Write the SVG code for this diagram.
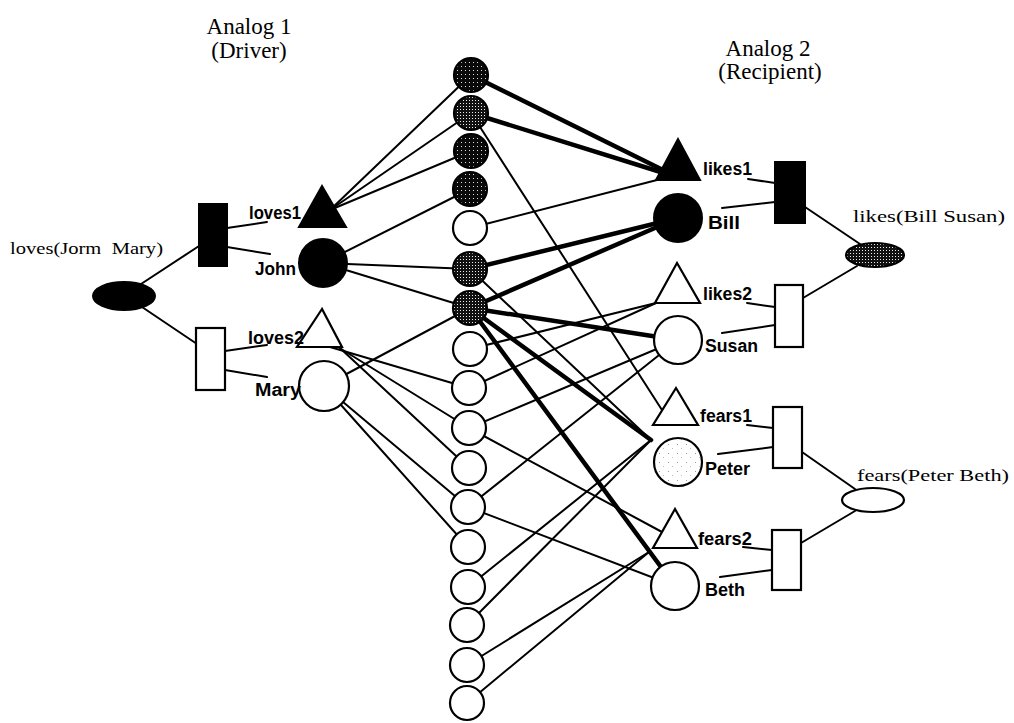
<svg xmlns="http://www.w3.org/2000/svg" width="1014" height="723" viewBox="0 0 1014 723">
<defs>
<pattern id="dk" width="4" height="4" patternUnits="userSpaceOnUse"><rect width="4" height="4" fill="#0a0a0a"/><rect x="1" y="2" width="1" height="1" fill="#ddd"/></pattern>
<pattern id="sp" width="3" height="3" patternUnits="userSpaceOnUse"><rect width="3" height="3" fill="#111"/><rect x="1" y="1" width="1" height="1" fill="#eee"/></pattern>
<pattern id="lt" width="9" height="9" patternUnits="userSpaceOnUse"><rect width="9" height="9" fill="#fff"/><rect x="2" y="3" width="1" height="1" fill="#999"/><rect x="6" y="7" width="1" height="1" fill="#bbb"/></pattern>
<style>
.ln{stroke:#000;stroke-width:2;fill:none;stroke-linecap:round}
.tk{stroke:#000;stroke-width:4.5;fill:none;stroke-linecap:round}
.w{fill:#fff;stroke:#000;stroke-width:2.2}
.b{fill:#000;stroke:#000;stroke-width:2}
.d{fill:url(#dk);stroke:#000;stroke-width:2.2}
.s{fill:url(#sp);stroke:#000;stroke-width:2.2}
.lab{font-family:"Liberation Sans",Arial,sans-serif;font-weight:bold;font-size:18px;fill:#000}
.ser{font-family:"Liberation Serif","Times New Roman",serif;font-size:17px;fill:#000}
.ttl{font-family:"Liberation Serif","Times New Roman",serif;font-size:23px;fill:#000;text-anchor:middle}
</style>
</defs>
<rect width="1014" height="723" fill="#fff"/>

<g id="titles">
<text class="ttl" x="249" y="34">Analog 1</text>
<text class="ttl" x="249" y="58">(Driver)</text>
<text class="ttl" x="768" y="56">Analog 2</text>
<text class="ttl" x="770" y="79">(Recipient)</text>
</g>

<g id="connectors">
<!-- left proposition trees -->
<line class="ln" x1="138" y1="286" x2="199" y2="246"/>
<line class="ln" x1="142" y1="307" x2="197" y2="344"/>
<line class="ln" x1="227" y1="228" x2="267" y2="222"/>
<line class="ln" x1="227" y1="247" x2="270" y2="254"/>
<line class="ln" x1="225" y1="351" x2="267" y2="345"/>
<line class="ln" x1="225" y1="370" x2="267" y2="377"/>
<!-- right proposition trees -->
<line class="ln" x1="748" y1="179" x2="775" y2="183"/>
<line class="ln" x1="722" y1="208" x2="775" y2="202"/>
<line class="ln" x1="747" y1="303" x2="775" y2="307"/>
<line class="ln" x1="722" y1="333" x2="775" y2="325"/>
<line class="ln" x1="747" y1="425" x2="773" y2="428"/>
<line class="ln" x1="718" y1="454" x2="773" y2="447"/>
<line class="ln" x1="743" y1="547" x2="772" y2="550"/>
<line class="ln" x1="720" y1="577" x2="772" y2="570"/>
<line class="ln" x1="805" y1="207" x2="860" y2="244"/>
<line class="ln" x1="803" y1="298" x2="857" y2="266"/>
<line class="ln" x1="802" y1="452" x2="855" y2="489"/>
<line class="ln" x1="801" y1="543" x2="855" y2="511"/>
<!-- driver to semantics -->
<line class="ln" x1="330" y1="210" x2="471" y2="75"/>
<line class="ln" x1="330" y1="210" x2="471" y2="113"/>
<line class="ln" x1="330" y1="210" x2="471" y2="151"/>
<line class="ln" x1="323" y1="263" x2="470" y2="189"/>
<line class="ln" x1="323" y1="263" x2="470" y2="269"/>
<line class="ln" x1="323" y1="263" x2="470" y2="308"/>
<line class="ln" x1="330" y1="347" x2="469" y2="388"/>
<line class="ln" x1="338" y1="347" x2="469" y2="428"/>
<line class="ln" x1="341" y1="349" x2="469" y2="468"/>
<line class="ln" x1="324" y1="386" x2="470" y2="308"/>
<line class="ln" x1="324" y1="386" x2="468" y2="507"/>
<line class="ln" x1="324" y1="386" x2="468" y2="547"/>
<!-- semantics to recipient -->
<line class="tk" x1="471" y1="75" x2="667" y2="172"/>
<line class="tk" x1="471" y1="113" x2="667" y2="174"/>
<line class="ln" x1="470" y1="228" x2="657" y2="180"/>
<line class="tk" x1="470" y1="269" x2="678" y2="218"/>
<line class="tk" x1="470" y1="308" x2="678" y2="218"/>
<line class="ln" x1="470" y1="349" x2="656" y2="303"/>
<line class="ln" x1="469" y1="388" x2="656" y2="303"/>
<line class="tk" x1="470" y1="308" x2="678" y2="340"/>
<line class="ln" x1="469" y1="428" x2="678" y2="340"/>
<line class="ln" x1="468" y1="507" x2="678" y2="340"/>
<line class="ln" x1="471" y1="113" x2="662" y2="410"/>
<line class="ln" x1="470" y1="269" x2="651" y2="440"/>
<line class="tk" x1="470" y1="308" x2="651" y2="440"/>
<line class="ln" x1="468" y1="587" x2="651" y2="440"/>
<line class="ln" x1="467" y1="625" x2="651" y2="440"/>
<line class="tk" x1="470" y1="308" x2="675" y2="586"/>
<line class="ln" x1="469" y1="428" x2="662" y2="532"/>
<line class="ln" x1="468" y1="507" x2="675" y2="586"/>
<line class="ln" x1="467" y1="665" x2="649" y2="552"/>
<line class="ln" x1="467" y1="703" x2="649" y2="552"/>
</g>

<g id="semantics">
<circle class="d" cx="471" cy="75" r="17"/>
<circle class="s" cx="471" cy="113" r="17"/>
<circle class="d" cx="471" cy="151" r="17"/>
<circle class="d" cx="470" cy="189" r="17"/>
<circle class="w" cx="470" cy="228" r="17"/>
<circle class="s" cx="470" cy="269" r="17"/>
<circle class="s" cx="470" cy="308" r="17"/>
<circle class="w" cx="470" cy="349" r="17"/>
<circle class="w" cx="469" cy="388" r="17"/>
<circle class="w" cx="469" cy="428" r="17"/>
<circle class="w" cx="469" cy="468" r="17"/>
<circle class="w" cx="468" cy="507" r="17"/>
<circle class="w" cx="468" cy="547" r="17"/>
<circle class="w" cx="468" cy="587" r="17"/>
<circle class="w" cx="467" cy="625" r="17"/>
<circle class="w" cx="467" cy="665" r="17"/>
<circle class="w" cx="467" cy="703" r="17"/>
</g>

<g id="loves-prop"><ellipse class="b" cx="124" cy="296" rx="31" ry="14"/><text class="ser" x="10" y="254" textLength="153" lengthAdjust="spacingAndGlyphs">loves(Jorm&#160; Mary)</text></g>
<g id="loves-sp1"><rect class="b" x="199" y="204" width="28" height="62"/></g>
<g id="loves-sp2"><rect class="w" x="196" y="328" width="29" height="62"/></g>
<g id="loves1"><polygon class="b" points="322,186 299,227 346,227"/><text class="lab" x="249" y="219" textLength="52" lengthAdjust="spacingAndGlyphs">loves1</text></g>
<g id="John"><circle class="b" cx="323" cy="263" r="24"/><text class="lab" x="255" y="275" textLength="41" lengthAdjust="spacingAndGlyphs">John</text></g>
<g id="loves2"><polygon class="w" points="322,309 297,347 342,347"/><text class="lab" x="248" y="344" textLength="56" lengthAdjust="spacingAndGlyphs">loves2</text></g>
<g id="Mary"><circle class="w" cx="324" cy="386" r="25"/><text class="lab" x="255" y="396" textLength="46" lengthAdjust="spacingAndGlyphs">Mary</text></g>

<g id="likes1"><polygon class="b" points="678,139 656,180 700,180"/><text class="lab" x="703" y="175" textLength="49" lengthAdjust="spacingAndGlyphs">likes1</text></g>
<g id="Bill"><circle class="b" cx="678" cy="218" r="24"/><text class="lab" x="708" y="229" textLength="32" lengthAdjust="spacingAndGlyphs">Bill</text></g>
<g id="likes2"><polygon class="w" points="677,263 655,303 700,303"/><text class="lab" x="703" y="300" textLength="49" lengthAdjust="spacingAndGlyphs">likes2</text></g>
<g id="Susan"><circle class="w" cx="678" cy="340" r="24"/><text class="lab" x="705" y="352" textLength="53" lengthAdjust="spacingAndGlyphs">Susan</text></g>
<g id="fears1"><polygon class="w" points="676,388 653,425 698,425"/><text class="lab" x="700" y="422" textLength="52" lengthAdjust="spacingAndGlyphs">fears1</text></g>
<g id="Peter"><circle fill="url(#lt)" stroke="#000" stroke-width="2.2" cx="678" cy="462" r="24"/><text class="lab" x="705" y="475" textLength="45" lengthAdjust="spacingAndGlyphs">Peter</text></g>
<g id="fears2"><polygon class="w" points="675,509 653,548 697,548"/><text class="lab" x="698" y="545" textLength="54" lengthAdjust="spacingAndGlyphs">fears2</text></g>
<g id="Beth"><circle class="w" cx="675" cy="586" r="24"/><text class="lab" x="705" y="596" textLength="40" lengthAdjust="spacingAndGlyphs">Beth</text></g>

<g id="likes-sp1"><rect class="b" x="775" y="162" width="30" height="61"/></g>
<g id="likes-sp2"><rect class="w" x="775" y="285" width="28" height="62"/></g>
<g id="fears-sp1"><rect class="w" x="773" y="407" width="29" height="61"/></g>
<g id="fears-sp2"><rect class="w" x="772" y="530" width="29" height="60"/></g>
<g id="likes-prop"><ellipse class="s" cx="875" cy="255" rx="29" ry="12"/><text class="ser" x="853" y="222" textLength="152" lengthAdjust="spacingAndGlyphs">likes(Bill Susan)</text></g>
<g id="fears-prop"><ellipse class="w" cx="873" cy="500" rx="31" ry="12"/><text class="ser" x="857" y="481" textLength="152" lengthAdjust="spacingAndGlyphs">fears(Peter Beth)</text></g>
</svg>
